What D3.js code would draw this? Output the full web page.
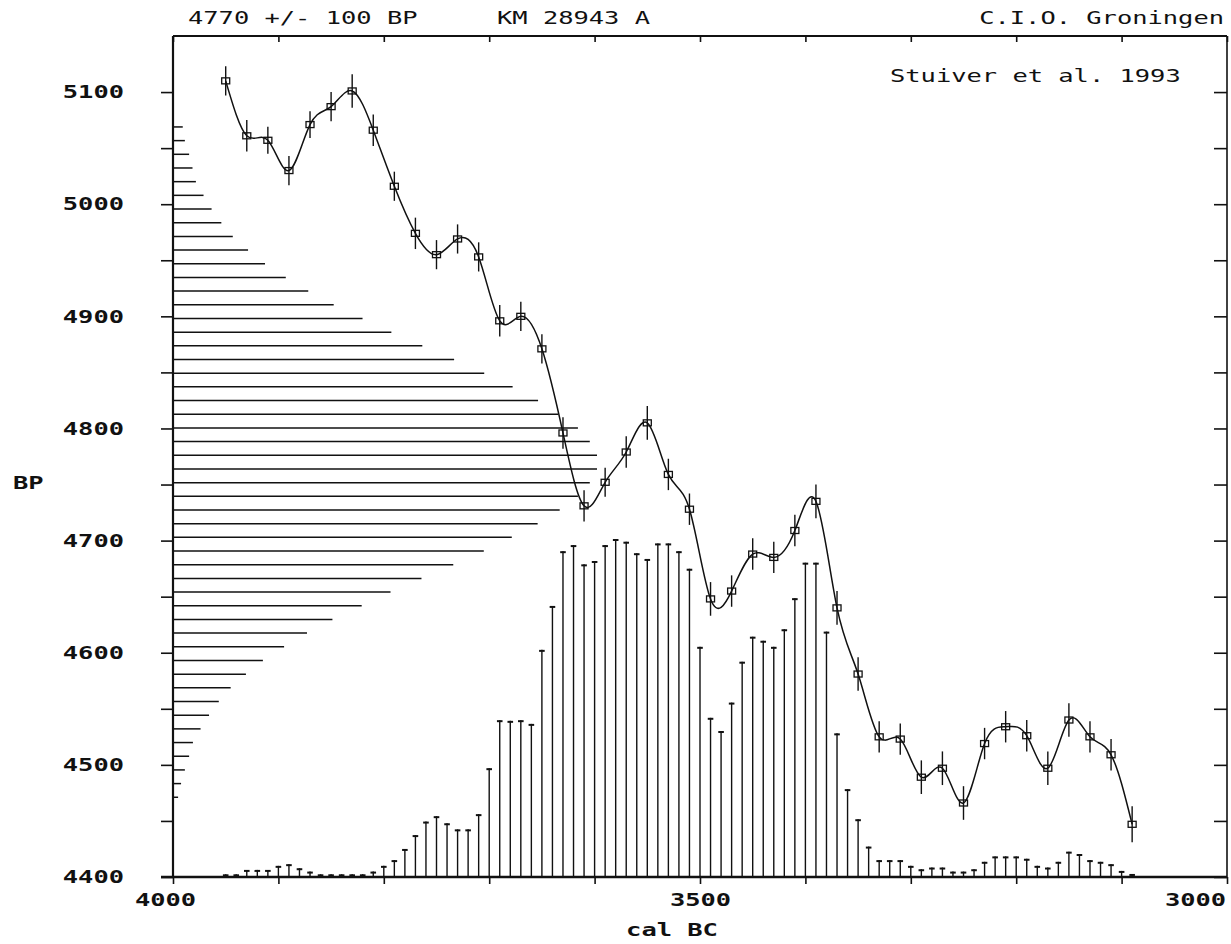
<!DOCTYPE html>
<html>
<head>
<meta charset="utf-8">
<script src="https://cdn.jsdelivr.net/npm/d3@7"></script>
<style>
  body { margin: 0; background: #fff; }
  svg text { font-family: "DejaVu Sans Mono", "Liberation Mono", monospace; fill: #111; }
</style>
</head>
<body>
<svg id="chart" width="1231" height="944"></svg>
<script>
// calibration curve (Stuiver et al. 1993), cal BC vs BP
var calYears = [3950, 3930, 3910, 3890, 3870, 3850, 3830, 3810, 3790, 3770, 3750,
    3730, 3710, 3690, 3670, 3650, 3630, 3610, 3590, 3570, 3550, 3530, 3510, 3490,
    3470, 3450, 3430, 3410, 3390, 3370, 3350, 3330, 3310, 3290, 3270, 3250, 3230,
    3210, 3190, 3170, 3150, 3130, 3110, 3090];
var calBP = [5110, 5061, 5057, 5030, 5071, 5087, 5101, 5066, 5016, 4974, 4955,
    4969, 4953, 4896, 4900, 4871, 4796, 4731, 4752, 4779, 4805, 4759, 4728, 4648,
    4655, 4688, 4685, 4709, 4735, 4640, 4581, 4525, 4523, 4489, 4497, 4466, 4519,
    4534, 4526, 4497, 4540, 4525, 4509, 4447];
var calErr = [13, 14, 12, 13, 12, 13, 15, 14, 13, 14, 13,
    13, 13, 14, 13, 13, 14, 14, 13, 14, 15, 14, 14, 15,
    14, 14, 14, 14, 15, 15, 15, 14, 14, 15, 15, 15, 14,
    14, 14, 15, 15, 14, 14, 16];

// radiocarbon age distribution 4770 +/- 100 BP (relative)
var ageLevels = [4471.1, 4483.3, 4495.5, 4507.7, 4519.9, 4532.1, 4544.3, 4556.5, 4568.7, 4580.9,
    4593.1, 4605.3, 4617.5, 4629.7, 4641.9, 4654.1, 4666.3, 4678.5, 4690.7, 4702.9,
    4715.1, 4727.3, 4739.5, 4751.7, 4763.9, 4776.1, 4788.3, 4800.5, 4812.7, 4824.9,
    4837.1, 4849.3, 4861.5, 4873.7, 4885.9, 4898.1, 4910.3, 4922.5, 4934.7, 4946.9,
    4959.1, 4971.3, 4983.5, 4995.7, 5007.9, 5020.1, 5032.3, 5044.5, 5056.7, 5068.9];
var ageProb = [1.2, 1.9, 2.8, 3.8, 4.7, 6.5, 8.5, 10.8, 13.6, 17.2,
    21.2, 26.2, 31.6, 37.6, 44.5, 51.3, 58.6, 66.1, 73.3, 79.9,
    86.0, 91.2, 95.5, 98.3, 100, 100, 98.3, 95.5, 90.8, 86.1,
    80.1, 73.4, 66.3, 58.8, 51.5, 44.7, 37.9, 31.9, 26.6, 21.7,
    17.7, 14.1, 11.4, 9.1, 7.2, 5.4, 4.6, 3.8, 2.8, 2.3];

// calibrated date distribution (relative), 10 yr steps
var calDistYears = [3950, 3940, 3930, 3920, 3910, 3900, 3890, 3880, 3870, 3860,
    3850, 3840, 3830, 3820, 3810, 3800, 3790, 3780, 3770, 3760,
    3750, 3740, 3730, 3720, 3710, 3700, 3690, 3680, 3670, 3660,
    3650, 3640, 3630, 3620, 3610, 3600, 3590, 3580, 3570, 3560,
    3550, 3540, 3530, 3520, 3510, 3500, 3490, 3480, 3470, 3460,
    3450, 3440, 3430, 3420, 3410, 3400, 3390, 3380, 3370, 3360,
    3350, 3340, 3330, 3320, 3310, 3300, 3290, 3280, 3270, 3260,
    3250, 3240, 3230, 3220, 3210, 3200, 3190, 3180, 3170, 3160,
    3150, 3140, 3130, 3120, 3110, 3100, 3090];
var calDistProb = [0.8, 0.8, 2.1, 2.1, 2.1, 3.3, 3.8, 2.6, 1.6, 0.8,
    0.8, 0.8, 0.8, 0.8, 1.6, 3.3, 5.0, 8.3, 12.4, 16.4,
    18.0, 15.9, 14.1, 14.1, 18.6, 32.2, 46.4, 46.2, 46.4, 45.3,
    67.2, 80.2, 96.4, 98.2, 92.5, 93.5, 98.2, 100, 99.2, 95.8,
    94.1, 98.7, 98.7, 96.4, 91.2, 68.1, 47.1, 43.2, 51.6, 63.7,
    71.1, 69.9, 68.1, 73.3, 82.5, 93.0, 93.0, 72.6, 42.5, 26.0,
    17.1, 9.0, 5.0, 5.0, 5.0, 3.3, 2.3, 2.8, 2.8, 1.6,
    1.6, 2.3, 4.5, 6.1, 6.1, 6.1, 5.4, 3.3, 2.8, 4.5,
    7.5, 6.8, 5.0, 4.5, 3.8, 1.8, 0.9];

// axis ticks
var xTicks = [4000, 3900, 3800, 3700, 3600, 3500, 3400, 3300, 3200, 3100, 3000];
var xLabels = [4000, 3500, 3000];
var yTicks = [4400, 4450, 4500, 4550, 4600, 4650, 4700, 4750, 4800, 4850, 4900, 4950, 5000, 5050, 5100];
var yLabels = [4400, 4500, 4600, 4700, 4800, 4900, 5000, 5100];

var ink = '#111';
var charW = 15.3;

var svg = d3.select('#chart');
var plotL = 173, plotR = 1227, plotT = 36, plotB = 877;

var x = d3.scaleLinear().domain([4000, 3000]).range([plotL, plotR]);
var y = d3.scaleLinear().domain([4400, 5150]).range([plotB, plotT]);
var ageLen = d3.scaleLinear().domain([0, 100]).range([0, 424]);
var distY = d3.scaleLinear().domain([0, 100]).range([plotB, plotB - 338]);

function wide(sel) {
    sel.attr('textLength', function(){ return this.textContent.length * charW; })
       .attr('lengthAdjust', 'spacingAndGlyphs');
}

// axes
var gLeft = svg.append('g').attr('transform', 'translate(' + plotL + ',0)')
    .call(d3.axisLeft(y).tickValues(yTicks).tickSize(12).tickPadding(37).tickSizeOuter(0)
        .tickFormat(function(d){ return yLabels.indexOf(d) >= 0 ? d : ''; }));
var gRight = svg.append('g').attr('transform', 'translate(' + plotR + ',0)')
    .call(d3.axisLeft(y).tickValues(yTicks).tickSize(13).tickSizeOuter(0).tickFormat(''));
var gBottom = svg.append('g').attr('transform', 'translate(0,' + plotB + ')')
    .call(d3.axisBottom(x).tickValues(xTicks).tickSize(7).tickPadding(9).tickSizeOuter(0)
        .tickFormat(function(d){ return xLabels.indexOf(d) >= 0 ? d : ''; }));
var gTop = svg.append('g').attr('transform', 'translate(0,' + plotT + ')')
    .call(d3.axisBottom(x).tickValues(xTicks).tickSize(6).tickSizeOuter(0).tickFormat(''));

[gLeft, gRight, gBottom, gTop].forEach(function(g){
    g.select('.domain').remove();
    g.selectAll('line').attr('stroke', ink).attr('stroke-width', 1.6);
    g.selectAll('text').style('font-size', '18px').style('font-weight', 'bold')
        .attr('fill', ink).style('font-family', '"DejaVu Sans Mono", monospace');
});
gLeft.selectAll('text').call(wide);
gBottom.selectAll('text').call(wide)
    .attr('dx', function(d){ return d === 4000 ? -8 : (d === 3000 ? -32 : 0); });

// frame
var frame = svg.append('g').attr('stroke', ink).attr('fill', 'none');
frame.append('line').attr('x1', plotL).attr('x2', plotR).attr('y1', plotT).attr('y2', plotT).attr('stroke-width', 2);
frame.append('line').attr('x1', plotL).attr('x2', plotL).attr('y1', plotT).attr('y2', plotB).attr('stroke-width', 2.2);
frame.append('line').attr('x1', plotR).attr('x2', plotR).attr('y1', plotT).attr('y2', plotB).attr('stroke-width', 1.6);
frame.append('line').attr('x1', plotL - 12).attr('x2', plotR).attr('y1', plotB).attr('y2', plotB).attr('stroke-width', 2.4);

// radiocarbon age histogram (horizontal)
svg.append('g').attr('stroke', ink).attr('stroke-width', 1.5)
    .selectAll('line').data(ageLevels).enter().append('line')
        .attr('x1', plotL)
        .attr('x2', function(d, i){ return plotL + ageLen(ageProb[i]); })
        .attr('y1', function(d){ return y(d); })
        .attr('y2', function(d){ return y(d); });

// calibrated distribution (vertical bars with caps)
var bars = svg.append('g').attr('stroke', ink)
    .selectAll('g').data(calDistYears).enter().append('g');
bars.append('line')
    .attr('stroke-width', 1.4)
    .attr('x1', function(d){ return x(d); })
    .attr('x2', function(d){ return x(d); })
    .attr('y1', plotB)
    .attr('y2', function(d, i){ return distY(calDistProb[i]); });
bars.append('line')
    .attr('stroke-width', 2)
    .attr('x1', function(d){ return x(d) - 2.8; })
    .attr('x2', function(d){ return x(d) + 2.8; })
    .attr('y1', function(d, i){ return distY(calDistProb[i]) + 1; })
    .attr('y2', function(d, i){ return distY(calDistProb[i]) + 1; });

// calibration curve
var pts = calYears.map(function(d, i){ return [d, calBP[i], calErr[i]]; });
svg.append('path')
    .datum(pts)
    .attr('fill', 'none').attr('stroke', ink).attr('stroke-width', 1.5)
    .attr('d', d3.line().curve(d3.curveNatural)
        .x(function(d){ return x(d[0]); })
        .y(function(d){ return y(d[1]); }));

var marks = svg.append('g').attr('stroke', ink).attr('fill', 'none')
    .selectAll('g').data(pts).enter().append('g');
marks.append('line')
    .attr('stroke-width', 1.4)
    .attr('x1', function(d){ return x(d[0]); })
    .attr('x2', function(d){ return x(d[0]); })
    .attr('y1', function(d){ return y(d[1] + d[2]); })
    .attr('y2', function(d){ return y(d[1] - d[2]); });
marks.append('rect')
    .attr('stroke-width', 1.3)
    .attr('x', function(d){ return x(d[0]) - 4; })
    .attr('y', function(d){ return y(d[1]) - 3; })
    .attr('width', 8).attr('height', 6);

// texts
function label(txt, px, py, anchor, weight) {
    svg.append('text').text(txt)
        .attr('x', px).attr('y', py)
        .attr('text-anchor', anchor || 'start')
        .style('font-size', '18px')
        .style('font-weight', weight || 'normal')
        .call(wide);
}
label('4770 +/- 100 BP', 188, 24);
label('KM 28943 A', 497, 24);
label('C.I.O. Groningen', 1224, 24, 'end');
label('Stuiver et al. 1993', 890, 82);
label('BP', 13, 489, 'start', 'bold');
label('cal BC', 672, 936, 'middle', 'bold');
</script>
</body>
</html>
